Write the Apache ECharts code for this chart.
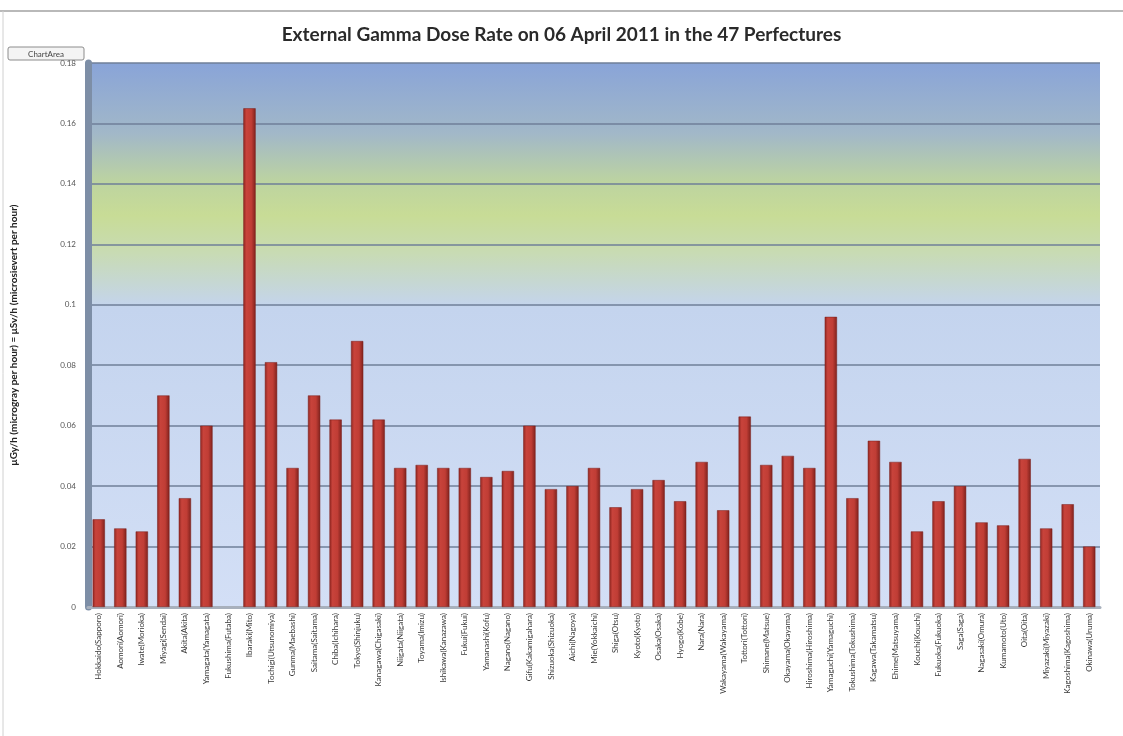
<!DOCTYPE html>
<html>
<head>
<meta charset="utf-8">
<title>External Gamma Dose Rate</title>
<script src="https://cdn.jsdelivr.net/npm/echarts@6/dist/echarts.min.js"></script>
<style>
  html, body { margin: 0; padding: 0; background: #ffffff; }
  #chart { width: 1123px; height: 736px; }
</style>
</head>
<body>
<div id="chart"></div>
<script>
// Prefecture (measuring station) labels
const prefectures = [
  'Hokkaido(Sapporo)', 'Aomori(Aomori)', 'Iwate(Morioka)', 'Miyagi(Sendai)', 'Akita(Akita)',
  'Yamagata(Yamagata)', 'Fukushima(Futaba)', 'Ibaraki(Mito)', 'Tochigi(Utsunomiya)', 'Gunma(Maebashi)',
  'Saitama(Saitama)', 'Chiba(Ichihara)', 'Tokyo(Shinjuku)', 'Kanagawa(Chigasaki)', 'Niigata(Niigata)',
  'Toyama(Imizu)', 'Ishikawa(Kanazawa)', 'Fukui(Fukui)', 'Yamanashi(Kofu)', 'Nagano(Nagano)',
  'Gifu(Kakamigahara)', 'Shizuoka(Shizuoka)', 'Aichi(Nagoya)', 'Mie(Yokkaichi)', 'Shiga(Otsu)',
  'Kyoto(Kyoto)', 'Osaka(Osaka)', 'Hyogo(Kobe)', 'Nara(Nara)', 'Wakayama(Wakayama)',
  'Tottori(Tottori)', 'Shimane(Matsue)', 'Okayama(Okayama)', 'Hiroshima(Hiroshima)', 'Yamaguchi(Yamaguchi)',
  'Tokushima(Tokushima)', 'Kagawa(Takamatsu)', 'Ehime(Matsuyama)', 'Kouchi(Kouchi)', 'Fukuoka(Fukuoka)',
  'Saga(Saga)', 'Nagasaki(Omura)', 'Kumamoto(Uto)', 'Oita(Oita)', 'Miyazaki(Miyazaki)',
  'Kagoshima(Kagoshima)', 'Okinawa(Uruma)'
];

// Dose rate in μGy/h; Fukushima had no reading
const doseRate = [
  0.029, 0.026, 0.025, 0.070, 0.036,
  0.060, null, 0.165, 0.081, 0.046,
  0.070, 0.062, 0.088, 0.062, 0.046,
  0.047, 0.046, 0.046, 0.043, 0.045,
  0.060, 0.039, 0.040, 0.046, 0.033,
  0.039, 0.042, 0.035, 0.048, 0.032,
  0.063, 0.047, 0.050, 0.046, 0.096,
  0.036, 0.055, 0.048, 0.025, 0.035,
  0.040, 0.028, 0.027, 0.049, 0.026,
  0.034, 0.020
];

const yTicks = { min: 0, max: 0.18, interval: 0.02 };

const chart = echarts.init(document.getElementById('chart'));

// Back wall: blue at the top, a yellow-green band near 0.13, pale blue below
const wallGradient = new echarts.graphic.LinearGradient(0, 0, 0, 1, [
  { offset: 0.00, color: '#89a4d8' },
  { offset: 0.13, color: '#a2b8c8' },
  { offset: 0.22, color: '#bdd4a0' },
  { offset: 0.28, color: '#c8dc96' },
  { offset: 0.35, color: '#c8dbb4' },
  { offset: 0.45, color: '#c4d4ee' },
  { offset: 1.00, color: '#d3dff6' }
]);

// Shaded bar face for a cylinder-like look
const barGradient = new echarts.graphic.LinearGradient(0, 0, 1, 0, [
  { offset: 0.00, color: '#8f2621' },
  { offset: 0.25, color: '#c8433b' },
  { offset: 0.65, color: '#c03d35' },
  { offset: 1.00, color: '#7e211c' }
]);

chart.setOption({
  backgroundColor: '#ffffff',
  animation: false,
  title: {
    text: 'External Gamma Dose Rate on 06 April 2011 in the 47 Perfectures',
    left: 'center',
    top: 20,
    textStyle: {
      fontFamily: 'Lato, "Open Sans", sans-serif',
      fontSize: 19,
      fontWeight: 'bold',
      color: '#2a2a2a'
    }
  },
  graphic: [
    {
      type: 'line',
      shape: { x1: 0, y1: 11, x2: 1123, y2: 11 },
      style: { stroke: '#b9b9b9', lineWidth: 2 }
    },
    {
      type: 'line',
      shape: { x1: 3, y1: 11, x2: 3, y2: 736 },
      style: { stroke: '#d0d0d0', lineWidth: 1 }
    },
    {
      type: 'rect',
      shape: { x: 8, y: 47, width: 76, height: 13, r: 2 },
      style: { fill: '#f4f4f4', stroke: '#8c8c8c', lineWidth: 1 }
    },
    {
      type: 'text',
      x: 46, y: 54,
      style: {
        text: 'ChartArea',
        fontSize: 8,
        fontFamily: 'Lato, sans-serif',
        fill: '#444',
        align: 'center',
        verticalAlign: 'middle'
      }
    }
  ],
  grid: {
    left: 88,
    right: 23,
    top: 63,
    bottom: 129,
    show: true,
    backgroundColor: wallGradient,
    borderWidth: 0
  },
  xAxis: {
    type: 'category',
    data: prefectures,
    axisLine: { show: true, lineStyle: { color: '#a8b0bc', width: 3 } },
    axisTick: { show: false },
    axisLabel: {
      rotate: 90,
      interval: 0,
      fontSize: 8,
      fontFamily: 'Lato, sans-serif',
      color: '#3a3a3a',
      margin: 6
    }
  },
  yAxis: {
    type: 'value',
    min: yTicks.min,
    max: yTicks.max,
    interval: yTicks.interval,
    name: 'μGy/h (microgray per hour) = μSv/h (microsievert per hour)',
    nameLocation: 'middle',
    nameRotate: 90,
    nameGap: 69,
    nameTextStyle: {
      fontSize: 10,
      fontWeight: 'bold',
      fontFamily: 'Lato, sans-serif',
      color: '#222'
    },
    axisLine: { show: true, lineStyle: { color: '#7d8ea6', width: 7 } },
    axisTick: { show: false },
    axisLabel: {
      fontSize: 8,
      fontFamily: 'Lato, sans-serif',
      color: '#555',
      margin: 12
    },
    splitLine: { lineStyle: { color: '#6f7f99', width: 1.5 } }
  },
  series: [
    {
      type: 'bar',
      data: doseRate,
      barWidth: '57%',
      itemStyle: {
        color: barGradient,
        borderColor: '#7a1f1a',
        borderWidth: 0.5
      }
    }
  ]
});
</script>
</body>
</html>
